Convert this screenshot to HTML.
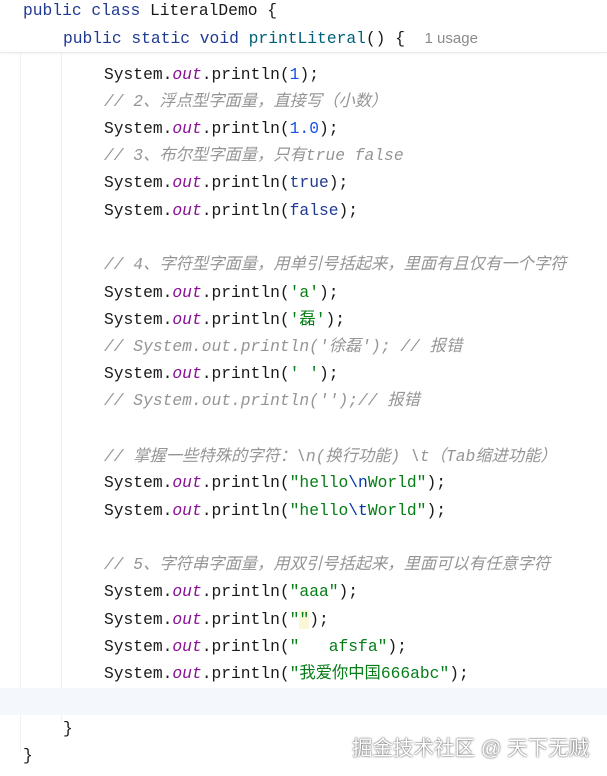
<!DOCTYPE html>
<html><head><meta charset="utf-8"><style>
html,body{margin:0;padding:0;background:#fff;}
body{width:607px;height:776px;position:relative;overflow:hidden;font-family:"Liberation Mono","Noto Sans CJK SC",monospace;font-size:16.3px;color:#1a1a1a;}
.l{position:absolute;white-space:pre;height:28px;line-height:28px;left:0;}
.k{color:#1f3a93;}
.m{color:#00627a;}
.o{color:#871094;font-style:italic;}
.n{color:#1750eb;}
.s{color:#067d17;}
.e{color:#0037a6;}
.c{color:#959595;font-style:italic;}
.g{position:absolute;top:52px;width:1px;background:#f0f0f0;}
</style></head><body>
<div class="g" style="left:20px;height:700px"></div>
<div class="g" style="left:61px;height:670px"></div>
<div style="position:absolute;left:0;top:688px;width:607px;height:27px;background:#f4f7fc;"></div>
<div style="position:absolute;left:0;top:0;width:607px;height:52px;background:#fff;border-bottom:1px solid #eaeaea;box-shadow:0 1px 2px rgba(0,0,0,.04);"></div>
<div class="l" style="top:-3px;left:23px"><span class="k">public class</span> LiteralDemo {</div>
<div class="l" style="top:25px;left:63px"><span class="k">public static void</span> <span class="m">printLiteral</span>() {  <span style="font-family:'Liberation Sans',sans-serif;color:#8a8a8a;font-size:15px">1 usage</span></div>

<div class="l" style="top:61px;left:104px">System.<span class="o">out</span>.println(<span class="n">1</span>);</div>
<div class="l c" style="top:88px;left:104px">// 2、浮点型字面量，直接写（小数）</div>
<div class="l" style="top:115px;left:104px">System.<span class="o">out</span>.println(<span class="n">1.0</span>);</div>
<div class="l c" style="top:142px;left:104px">// 3、布尔型字面量，只有true false</div>
<div class="l" style="top:169px;left:104px">System.<span class="o">out</span>.println(<span class="k">true</span>);</div>
<div class="l" style="top:197px;left:104px">System.<span class="o">out</span>.println(<span class="k">false</span>);</div>

<div class="l c" style="top:251px;left:104px">// 4、字符型字面量，用单引号括起来，里面有且仅有一个字符</div>
<div class="l" style="top:279px;left:104px">System.<span class="o">out</span>.println(<span class="s">'a'</span>);</div>
<div class="l" style="top:306px;left:104px">System.<span class="o">out</span>.println(<span class="s">'磊'</span>);</div>
<div class="l c" style="top:333px;left:104px">// System.out.println('徐磊'); // 报错</div>
<div class="l" style="top:360px;left:104px">System.<span class="o">out</span>.println(<span class="s">' '</span>);</div>
<div class="l c" style="top:387px;left:104px">// System.out.println('');// 报错</div>

<div class="l c" style="top:443px;left:104px">// 掌握一些特殊的字符：\n(换行功能) \t（Tab缩进功能）</div>
<div class="l" style="top:469px;left:104px">System.<span class="o">out</span>.println(<span class="s">"hello<span class="e">\n</span>World"</span>);</div>
<div class="l" style="top:497px;left:104px">System.<span class="o">out</span>.println(<span class="s">"hello<span class="e">\t</span>World"</span>);</div>

<div class="l c" style="top:551px;left:104px">// 5、字符串字面量，用双引号括起来，里面可以有任意字符</div>
<div class="l" style="top:578px;left:104px">System.<span class="o">out</span>.println(<span class="s">"aaa"</span>);</div>
<div class="l" style="top:606px;left:104px">System.<span class="o">out</span>.println(<span class="s">"<span style="background:#fcf6d9">"</span></span>);</div>
<div class="l" style="top:633px;left:104px">System.<span class="o">out</span>.println(<span class="s">"   afsfa"</span>);</div>
<div class="l" style="top:660px;left:104px">System.<span class="o">out</span>.println(<span class="s">"我爱你中国666abc"</span>);</div>

<div class="l" style="top:715px;left:63px">}</div>
<div class="l" style="top:742px;left:23px">}</div>
<div style="position:absolute;left:352px;top:731px;font-family:'Liberation Sans','Noto Sans CJK SC',sans-serif;font-size:20.5px;color:#fff;text-shadow:0 0 2px rgba(0,0,0,.6),0 0 1px rgba(0,0,0,.5);white-space:nowrap;">掘金技术社区 @ 天下无贼</div>
</body></html>
